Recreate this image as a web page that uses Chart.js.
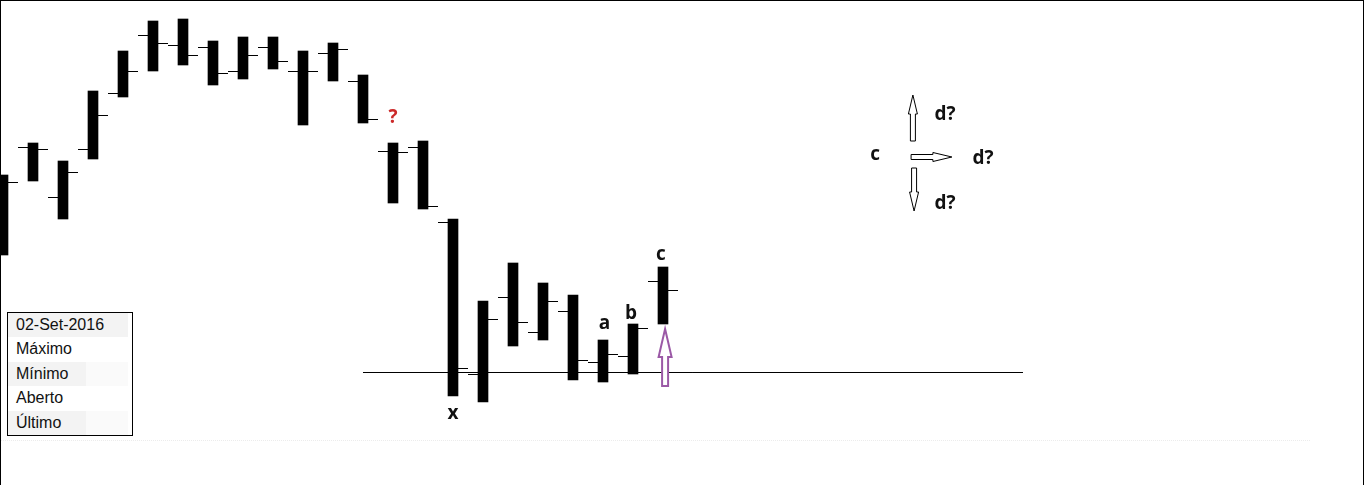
<!DOCTYPE html>
<html lang="pt">
<head>
<meta charset="utf-8">
<title>02-Set-2016</title>
<script src="https://cdn.jsdelivr.net/npm/chart.js@4/dist/chart.umd.min.js"></script>
<style>
    html, body { margin: 0; padding: 0; background: #fff; }
    .wrap { position: relative; width: 1364px; height: 485px; overflow: hidden; }
    .wrap canvas { position: absolute; left: 0; top: 0; }
    .frame {
        position: absolute; left: 0; top: 0; width: 1362px; height: 485px;
        border-top: 1px solid #000; border-left: 1px solid #000; border-right: 1px solid #000;
        pointer-events: none;
    }
    .axisline { position: absolute; left: 0; top: 440px; width: 1310px; border-top: 1px dotted #ececec; }
    .info {
        position: absolute; left: 7px; top: 312px; width: 124px; height: 122px;
        border: 1px solid #000; background: #fff; overflow: hidden;
        font: 16px "Liberation Sans", Arial, sans-serif; color: #111;
    }
    .info div { height: 24.4px; line-height: 24px; padding-left: 8px; box-sizing: border-box; }
    .info .g { background: linear-gradient(to right, #f3f3f3 0, #f3f3f3 78px, #fafafa 78px, #fafafa 120px, #fff 120px); }
    .info .h { background: linear-gradient(to right, #f3f3f3 0, #f3f3f3 120px, #fff 120px); }
</style>
</head>
<body>
<div class="wrap">
    <canvas id="chart" width="1364" height="485"></canvas>
    <div class="axisline"></div>
    <div class="frame"></div>
    <div class="info">
        <div class="h">02-Set-2016</div>
        <div>Máximo</div>
        <div class="g">Mínimo</div>
        <div>Aberto</div>
        <div class="g">Último</div>
    </div>
</div>
<script>
// ── Dados (preços) ─────────────────────────────────────────────────────────
const highs  = [51.25, 52.85, 51.95, 55.45, 57.45, 58.95, 59.05, 57.95, 58.15, 58.15, 57.45, 57.85,
                56.25, 52.85, 52.95, 49.05, 44.95, 46.85, 45.85, 45.25, 43.00, 43.80, 46.65];
const lows   = [47.25, 50.95, 49.05, 52.05, 55.15, 56.45, 56.75, 55.75, 56.05, 56.55, 53.75, 55.95,
                53.85, 49.85, 49.55, 40.20, 39.90, 42.70, 43.00, 41.00, 40.90, 41.30, 43.80];
const opens  = [48.00, 52.65, 50.15, 52.55, 55.35, 58.25, 57.75, 57.65, 56.45, 57.65, 56.45, 57.35,
                55.95, 52.45, 52.65, 48.90, 41.30, 45.15, 43.40, 44.45, 41.90, 42.20, 45.95];
const closes = [50.90, 52.55, 51.40, 54.25, 56.45, 57.85, 57.25, 56.35, 57.25, 56.95, 56.45, 57.55,
                54.05, 52.40, 49.70, 41.60, 44.05, 43.90, 44.95, 42.00, 42.30, 43.60, 45.50];

// linha de suporte (início, fim, nível)
const supportX = [12, 34];
const supportLevel = 41.375;

// rótulos: texto, x (índice da barra), y (preço)
const labelTexts = ['?', 'x', 'a', 'b', 'c', 'c', 'd?', 'd?', 'd?'];
const labelX     = [13, 15, 20.05, 20.93, 21.93, 29.07, 31.40, 32.67, 31.40];
const labelY     = [54.10, 39.30, 43.80, 44.30, 47.25, 52.25, 54.25, 52.05, 49.80];

// setas: [x0, y0] -> [x1, y1]
const arrowFrom = [[30.33, 52.95], [30.27, 52.15], [30.37, 51.60], [22.07, 40.70]];
const arrowTo   = [[30.33, 55.25], [31.63, 52.15], [30.37, 49.45], [22.07, 43.55]];

// ── Traços de abertura / fechamento ────────────────────────────────────────
const ohlcTicks = {
    id: 'ohlcTicks',
    afterDatasetsDraw(chart) {
        const { ctx, scales: { x, y } } = chart;
        ctx.save();
        ctx.strokeStyle = '#000';
        ctx.lineWidth = 1;
        opens.forEach((o, i) => {
            const px = Math.round(x.getPixelForValue(i));
            const yo = Math.round(y.getPixelForValue(o)) + 0.5;
            const yc = Math.round(y.getPixelForValue(closes[i])) + 0.5;
            ctx.beginPath();
            ctx.moveTo(px - 15, yo); ctx.lineTo(px - 5, yo);
            ctx.moveTo(px + 5, yc);  ctx.lineTo(px + 15, yc);
            ctx.stroke();
        });
        ctx.restore();
    }
};

// ── Seta vazada ────────────────────────────────────────────────────────────
function hollowArrow(ctx, x0, y0, x1, y1, shaftW, headW, headL) {
    const len = Math.hypot(x1 - x0, y1 - y0);
    ctx.save();
    ctx.translate(x0, y0);
    ctx.rotate(Math.atan2(y1 - y0, x1 - x0));
    ctx.beginPath();
    ctx.moveTo(0, -shaftW / 2);
    ctx.lineTo(len - headL, -shaftW / 2);
    ctx.lineTo(len - headL, -headW / 2);
    ctx.lineTo(len, 0);
    ctx.lineTo(len - headL, headW / 2);
    ctx.lineTo(len - headL, shaftW / 2);
    ctx.lineTo(0, shaftW / 2);
    ctx.closePath();
    ctx.fillStyle = '#fff';
    ctx.fill();
    ctx.stroke();
    ctx.restore();
}

// ── Anotações (setas + letras) ─────────────────────────────────────────────
const annotations = {
    id: 'annotations',
    afterDatasetsDraw(chart) {
        const { ctx, scales: { x, y } } = chart;
        ctx.save();
        arrowFrom.forEach((f, i) => {
            const t = arrowTo[i];
            const purple = i === 3;
            ctx.strokeStyle = purple ? '#9b59a6' : '#000';
            ctx.lineWidth = purple ? 2 : 1;
            hollowArrow(ctx,
                x.getPixelForValue(f[0]), y.getPixelForValue(f[1]),
                x.getPixelForValue(t[0]), y.getPixelForValue(t[1]),
                purple ? 6 : 5, purple ? 13 : 9, purple ? 28 : 19);
        });
        ctx.font = 'bold 19px "Open Sans", sans-serif';
        ctx.textAlign = 'center';
        ctx.textBaseline = 'middle';
        labelTexts.forEach((txt, i) => {
            ctx.fillStyle = txt === '?' ? '#cc2a2a' : '#111';
            ctx.fillText(txt, x.getPixelForValue(labelX[i]), y.getPixelForValue(labelY[i]));
        });
        ctx.restore();
    }
};

// ── Gráfico ────────────────────────────────────────────────────────────────
new Chart(document.getElementById('chart').getContext('2d'), {
    type: 'bar',
    data: {
        datasets: [{
            type: 'bar',
            data: highs.map((h, i) => ({ x: i, y: [lows[i], h] })),
            backgroundColor: '#000',
            borderWidth: 0,
            barThickness: 10,
            grouped: false
        }, {
            type: 'line',
            data: supportX.map(v => ({ x: v, y: supportLevel })),
            borderColor: '#000',
            borderWidth: 1,
            pointRadius: 0
        }]
    },
    options: {
        responsive: false,
        animation: false,
        layout: { padding: 0 },
        plugins: { legend: { display: false }, tooltip: { enabled: false } },
        scales: {
            x: { type: 'linear', min: -0.1, max: 45.367, offset: false, display: false },
            y: { type: 'linear', min: 35.75, max: 60, display: false }
        }
    },
    plugins: [ohlcTicks, annotations]
});
</script>
</body>
</html>
